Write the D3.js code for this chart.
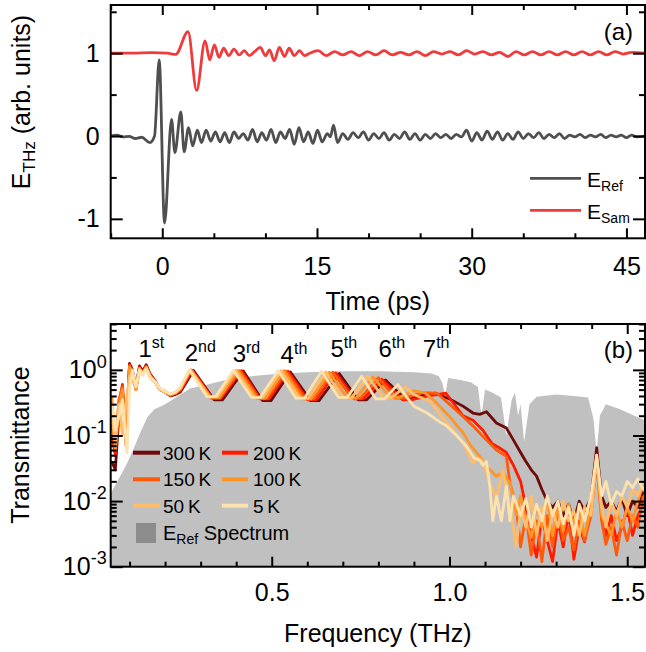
<!DOCTYPE html>
<html><head><meta charset="utf-8">
<script src="https://cdn.jsdelivr.net/npm/d3@7"></script>
<style>
html,body{margin:0;padding:0;background:#fff;}
svg{display:block;font-family:Arial,"Liberation Sans",sans-serif;}
</style></head>
<body><svg id="c" width="646" height="652"></svg>
<script>
// ---------------- DATA ----------------
// Panel (a): time-domain fields (vertices at extrema)
const refTime = [-5,-4.4,-3.8,-3.2,-2.6,-2.0,-1.2,-0.75,-0.3,0.22,0.9,1.22,1.8,2.12,2.55,2.95,3.4,3.8,4.25,4.7,5.15,5.6,6.05,6.5,6.95,7.4,7.85,8.3,8.75,9.2,9.65,10.1,10.55,11.0,11.45,11.9,12.35,12.8,13.25,13.7,14.15,14.6,15.05,15.5,16.0,16.3,16.6,17.0,17.5,18.0,18.5,19.0,19.5,20.0,20.5,21.0,21.5,22.0,22.5,23.0,23.5,24.0,24.5,25.0,25.5,26.0,26.5,27.0,27.5,28.0,28.5,29.0,29.5,30.0,30.5,31.0,31.5,32.0,32.5,33.0,33.5,34.0,34.5,35.0,35.5,36.0,36.5,37.0,37.5,38.0,38.5,39.0,39.5,40.0,40.5,41.0,41.5,42.0,42.5,43.0,43.5,44.0,44.5,45.0,45.5,46.0,46.8];
const refField = [0,0.012,-0.01,-0.005,-0.03,-0.015,-0.08,0.0,0.92,-1.05,0.2,-0.2,0.29,-0.19,0.1,-0.12,0.07,-0.08,0.07,-0.06,0.05,-0.07,0.04,-0.08,0.05,-0.03,0.03,-0.05,0.08,-0.07,0.04,-0.05,0.08,-0.08,0.05,-0.03,0.08,-0.1,0.1,-0.07,0.05,-0.09,0.07,-0.07,0.03,-0.01,0.13,-0.08,0.03,-0.04,0.04,-0.02,0.05,-0.05,0.03,-0.03,0.04,-0.05,0.02,-0.03,0.05,-0.04,0.03,-0.05,0.02,-0.03,0.03,-0.02,0.02,-0.03,0.02,-0.01,0.07,-0.06,0.04,-0.05,0.06,-0.04,0.05,-0.05,0.03,-0.04,0.05,-0.03,0.03,-0.02,0.04,-0.03,0.02,-0.02,0.03,-0.03,0.01,-0.01,0.02,-0.02,0.01,-0.01,0.02,-0.02,0.01,-0.01,0.01,-0.02,0.01,-0.01,0.0];
const samTime = [-5,-3,-1,0.5,1.3,2.5,3.33,4.15,4.6,5.05,5.5,5.95,6.45,6.95,7.45,7.95,8.45,8.95,9.5,10.0,10.4,10.85,11.35,11.85,12.3,12.8,13.3,13.8,14.3,15.1,15.9,16.7,17.5,18.3,19.1,19.9,20.7,21.5,22.3,23.1,23.9,24.7,25.5,26.3,27.1,27.9,28.7,29.5,30.3,31.1,31.9,32.7,33.5,34.3,35.1,35.9,36.7,37.5,38.3,39.1,39.9,40.7,41.5,42.3,43.1,43.9,44.7,45.5,46.8];
const samField = [1.0,1.0,1.006,1.0,0.985,1.26,0.55,1.15,0.92,1.1,0.95,1.06,0.97,1.05,0.98,1.03,0.97,1.02,1.07,0.97,1.04,0.91,1.07,0.96,1.06,0.97,1.03,0.97,1.0,1.03,0.97,1.02,0.98,1.02,0.97,1.02,0.98,1.03,0.98,1.01,0.98,1.02,0.97,1.02,0.99,1.02,0.98,1.03,0.99,1.02,0.98,1.01,0.96,1.02,0.98,1.02,0.98,1.02,0.98,1.02,0.98,1.02,0.98,1.02,0.98,1.02,0.99,1.01,1.0];
const timeTicks = [0,15,30,45];
const fieldTicks = [-1,0,1];

// Panel (b): transmittance [frequency THz, T]
const T300K = [[0.05,0.04],[0.06,0.03],[0.07,0.2],[0.08,0.45],[0.09,0.1],[0.1,1.25],[0.108,1.0],[0.118,0.55],[0.128,1.15],[0.137,0.95],[0.147,1.2],[0.158,0.86],[0.172,0.68],[0.186,0.5],[0.2,0.47],[0.215,0.4],[0.229,0.42],[0.243,0.46],[0.28,0.98],[0.338,0.35],[0.362,0.35],[0.42,0.96],[0.474,0.34],[0.498,0.34],[0.552,0.93],[0.609,0.34],[0.633,0.34],[0.69,0.88],[0.743,0.35],[0.767,0.35],[0.82,0.7],[0.873,0.37],[0.897,0.37],[0.93,0.42],[0.96,0.44],[1.0,0.36],[1.038,0.28],[1.066,0.22],[1.085,0.21],[1.104,0.23],[1.132,0.155],[1.16,0.13],[1.18,0.085],[1.2,0.055],[1.215,0.04],[1.23,0.03],[1.245,0.024],[1.26,0.015],[1.275,0.01],[1.29,0.008],[1.305,0.01],[1.32,0.006],[1.335,0.009],[1.35,0.005],[1.365,0.01],[1.38,0.007],[1.398,0.011],[1.414,0.065],[1.428,0.012],[1.44,0.008],[1.455,0.01],[1.47,0.007],[1.485,0.011],[1.5,0.006],[1.515,0.01],[1.53,0.008],[1.545,0.014]];
const T200K = [[0.05,0.1],[0.06,0.05],[0.07,0.3],[0.08,0.6],[0.09,0.09],[0.1,1.2],[0.108,0.9],[0.118,0.52],[0.128,1.1],[0.137,0.92],[0.147,1.15],[0.158,0.84],[0.172,0.67],[0.186,0.5],[0.2,0.46],[0.215,0.41],[0.229,0.43],[0.243,0.48],[0.276,0.99],[0.333,0.37],[0.357,0.37],[0.415,0.97],[0.468,0.36],[0.492,0.36],[0.546,0.95],[0.601,0.35],[0.625,0.35],[0.68,0.9],[0.733,0.36],[0.757,0.36],[0.81,0.72],[0.868,0.35],[0.892,0.35],[0.94,0.4],[0.99,0.44],[1.038,0.2],[1.066,0.17],[1.094,0.12],[1.12,0.075],[1.14,0.065],[1.16,0.055],[1.18,0.035],[1.2,0.02],[1.215,0.008],[1.23,0.003],[1.245,0.0014],[1.26,0.006],[1.275,0.0025],[1.29,0.0012],[1.305,0.005],[1.32,0.002],[1.335,0.007],[1.35,0.0013],[1.365,0.004],[1.38,0.0024],[1.398,0.008],[1.414,0.05],[1.428,0.007],[1.44,0.003],[1.455,0.006],[1.47,0.0025],[1.485,0.004],[1.5,0.008],[1.515,0.003],[1.53,0.006],[1.545,0.009]];
const T150K = [[0.05,0.15],[0.06,0.07],[0.07,0.35],[0.08,0.55],[0.09,0.07],[0.1,1.15],[0.108,0.85],[0.118,0.5],[0.128,1.05],[0.137,0.9],[0.147,1.12],[0.158,0.82],[0.172,0.66],[0.186,0.5],[0.2,0.46],[0.215,0.41],[0.229,0.44],[0.243,0.5],[0.274,0.99],[0.33,0.37],[0.354,0.37],[0.41,0.97],[0.463,0.37],[0.487,0.37],[0.54,0.96],[0.594,0.36],[0.618,0.36],[0.672,0.92],[0.726,0.37],[0.75,0.37],[0.8,0.76],[0.848,0.37],[0.872,0.37],[0.925,0.45],[0.965,0.44],[1.0,0.3],[1.038,0.195],[1.066,0.14],[1.094,0.097],[1.132,0.06],[1.16,0.048],[1.17,0.019],[1.188,0.008],[1.2,0.002],[1.215,0.006],[1.23,0.0015],[1.245,0.005],[1.26,0.0012],[1.275,0.006],[1.29,0.002],[1.305,0.007],[1.32,0.0025],[1.335,0.004],[1.35,0.0018],[1.365,0.005],[1.38,0.0025],[1.398,0.006],[1.414,0.04],[1.428,0.005],[1.44,0.0022],[1.455,0.004],[1.47,0.0015],[1.485,0.005],[1.5,0.0025],[1.515,0.006],[1.53,0.004],[1.545,0.012]];
const T100K = [[0.05,0.4],[0.06,0.06],[0.07,0.25],[0.08,0.5],[0.09,0.08],[0.1,1.1],[0.108,0.8],[0.118,0.5],[0.128,1.05],[0.137,0.88],[0.147,1.1],[0.158,0.8],[0.172,0.65],[0.186,0.5],[0.2,0.46],[0.215,0.42],[0.229,0.45],[0.243,0.52],[0.272,1.0],[0.328,0.38],[0.352,0.38],[0.404,0.98],[0.458,0.37],[0.482,0.37],[0.534,0.97],[0.586,0.36],[0.61,0.36],[0.662,0.92],[0.713,0.37],[0.737,0.37],[0.785,0.78],[0.833,0.38],[0.857,0.38],[0.9,0.48],[0.93,0.45],[0.96,0.33],[1.0,0.195],[1.038,0.11],[1.06,0.07],[1.085,0.048],[1.104,0.034],[1.132,0.024],[1.15,0.027],[1.17,0.019],[1.188,0.006],[1.2,0.012],[1.215,0.005],[1.23,0.0028],[1.245,0.009],[1.26,0.004],[1.275,0.011],[1.29,0.003],[1.305,0.008],[1.32,0.0035],[1.335,0.009],[1.35,0.0045],[1.365,0.007],[1.38,0.003],[1.398,0.008],[1.414,0.05],[1.428,0.006],[1.44,0.0045],[1.455,0.003],[1.47,0.007],[1.485,0.004],[1.5,0.008],[1.515,0.005],[1.53,0.01],[1.545,0.018]];
const T50K = [[0.05,0.2],[0.06,0.08],[0.07,0.3],[0.08,0.1],[0.09,0.3],[0.1,0.8],[0.108,0.7],[0.118,0.55],[0.128,1.0],[0.137,0.88],[0.147,1.05],[0.158,0.76],[0.172,0.64],[0.186,0.5],[0.2,0.46],[0.215,0.43],[0.229,0.45],[0.243,0.53],[0.27,1.0],[0.323,0.39],[0.347,0.39],[0.398,0.98],[0.45,0.38],[0.474,0.38],[0.526,0.97],[0.578,0.37],[0.602,0.37],[0.652,0.93],[0.7,0.37],[0.724,0.37],[0.77,0.8],[0.813,0.38],[0.837,0.38],[0.875,0.55],[0.9,0.42],[0.945,0.33],[0.992,0.156],[1.038,0.077],[1.066,0.038],[1.08,0.045],[1.094,0.04],[1.113,0.019],[1.132,0.011],[1.15,0.03],[1.17,0.008],[1.188,0.002],[1.2,0.008],[1.215,0.004],[1.23,0.012],[1.245,0.003],[1.26,0.008],[1.275,0.0025],[1.29,0.007],[1.305,0.004],[1.32,0.01],[1.335,0.005],[1.35,0.007],[1.365,0.003],[1.38,0.008],[1.398,0.006],[1.414,0.045],[1.428,0.008],[1.44,0.004],[1.455,0.01],[1.47,0.006],[1.485,0.012],[1.5,0.008],[1.515,0.015],[1.53,0.012],[1.545,0.02]];
const T5K = [[0.05,0.3],[0.06,0.12],[0.07,0.2],[0.08,0.35],[0.093,0.055],[0.1,0.5],[0.108,1.0],[0.118,0.55],[0.128,1.0],[0.137,0.82],[0.147,1.05],[0.158,0.78],[0.172,0.66],[0.186,0.52],[0.2,0.47],[0.215,0.43],[0.229,0.46],[0.243,0.55],[0.268,1.0],[0.318,0.39],[0.342,0.39],[0.392,0.98],[0.443,0.38],[0.467,0.38],[0.518,0.97],[0.568,0.37],[0.592,0.37],[0.64,0.95],[0.688,0.38],[0.712,0.38],[0.753,0.8],[0.793,0.36],[0.817,0.36],[0.855,0.6],[0.88,0.38],[0.9,0.28],[0.937,0.22],[0.973,0.16],[0.992,0.14],[1.02,0.1],[1.048,0.068],[1.07,0.045],[1.085,0.042],[1.094,0.035],[1.104,0.04],[1.113,0.018],[1.122,0.005],[1.132,0.012],[1.146,0.005],[1.16,0.017],[1.17,0.005],[1.18,0.012],[1.2,0.006],[1.215,0.011],[1.23,0.004],[1.245,0.009],[1.26,0.005],[1.275,0.012],[1.29,0.006],[1.305,0.01],[1.32,0.0045],[1.335,0.008],[1.35,0.003],[1.365,0.009],[1.38,0.005],[1.398,0.012],[1.414,0.05],[1.428,0.012],[1.44,0.02],[1.455,0.009],[1.47,0.014],[1.485,0.012],[1.5,0.02],[1.515,0.016],[1.53,0.022],[1.545,0.015]];
const refSpectrum = [[0.047,0.013],[0.07,0.022],[0.09,0.035],[0.11,0.06],[0.13,0.11],[0.15,0.19],[0.17,0.25],[0.2,0.3],[0.23,0.38],[0.27,0.52],[0.32,0.6],[0.37,0.7],[0.42,0.77],[0.47,0.83],[0.52,0.87],[0.6,0.92],[0.7,0.95],[0.8,0.95],[0.9,0.92],[0.95,0.88],[0.97,0.8],[0.98,0.63],[0.988,0.4],[0.996,0.75],[1.03,0.7],[1.06,0.65],[1.08,0.55],[1.09,0.2],[1.1,0.5],[1.12,0.45],[1.145,0.38],[1.16,0.1],[1.175,0.35],[1.184,0.45],[1.193,0.2],[1.2,0.3],[1.21,0.08],[1.225,0.3],[1.245,0.39],[1.3,0.42],[1.35,0.4],[1.39,0.38],[1.405,0.18],[1.414,0.055],[1.423,0.2],[1.44,0.3],[1.48,0.25],[1.52,0.2],[1.55,0.17]];
const tempLabels = ["300\u2009K","200\u2009K","150\u2009K","100\u2009K","50\u2009K","5\u2009K"];
const tempColors = ["#6e0a0a","#ff1a00","#ff5a0a","#ff9428","#ffbd6a","#fbe2ae"];
const freqTicks = [0.5,1.0,1.5];
const freqTickLabels = ["0.5","1.0","1.5"];
const decadeTicks = [1e-3,1e-2,1e-1,1];
const orderNames = ["1","2","3","4","5","6","7"];
const orderSup = ["st","nd","rd","th","th","th","th"];
const orderPos = [0.125,0.255,0.39,0.525,0.665,0.8,0.925];

// ---------------- DRAW ----------------
const svg = d3.select("#c");
const L = 110.7, R = 645;
const aTop = 5, aBot = 238.3, bTop = 324, bBot = 566.7;
const FS = 25;
const font = "Arial, 'Liberation Sans', sans-serif";

const xT = d3.scaleLinear().domain([-5,46.8]).range([L,R]);
const yT = d3.scaleLinear().domain([-1.235,1.582]).range([aBot,aTop]);
const xB = d3.scaleLinear().domain([0.047,1.55]).range([L,R]);
const yB = d3.scaleLog().domain([1e-3,5]).range([bBot,bTop]);

const defs = svg.append("defs");
defs.append("clipPath").attr("id","clipA").append("rect").attr("x",L).attr("y",aTop).attr("width",R-L).attr("height",aBot-aTop);
defs.append("clipPath").attr("id","clipB").append("rect").attr("x",L).attr("y",bTop).attr("width",R-L).attr("height",bBot-bTop);

// ---- Panel (a) traces
const gA = svg.append("g").attr("clip-path","url(#clipA)");
const lineT = d3.line().x(d=>xT(d[0])).y(d=>yT(d[1])).curve(d3.curveMonotoneX);
gA.append("path").datum(d3.zip(samTime,samField)).attr("d",lineT)
  .attr("fill","none").attr("stroke","#ef3b3b").attr("stroke-width",2.8).attr("stroke-linejoin","round");
gA.append("path").datum(d3.zip(refTime,refField)).attr("d",lineT)
  .attr("fill","none").attr("stroke","#4f4f4f").attr("stroke-width",2.8).attr("stroke-linejoin","round");

// ---- Panel (b)
const gB = svg.append("g").attr("clip-path","url(#clipB)");
const area = d3.area().x(d=>xB(d[0])).y0(bBot).y1(d=>yB(d[1]));
gB.append("path").datum(refSpectrum).attr("d",area).attr("fill","#c0c0c0");
const lineB = d3.line().x(d=>xB(d[0])).y(d=>yB(d[1]));
const series = [T300K,T200K,T150K,T100K,T50K,T5K];
series.forEach((s,i)=>{
  gB.append("path").datum(s).attr("d",lineB).attr("fill","none")
    .attr("stroke",tempColors[i]).attr("stroke-width",2.8).attr("stroke-linejoin","round");
});

// ---- axes helper
function styleAxis(g){
  g.select(".domain").remove();
  g.selectAll(".tick line").attr("stroke","#000").attr("stroke-width",2);
  g.selectAll("text").attr("font-size",FS).attr("fill","#000").attr("font-family",font);
}
function frame(top,bot){
  svg.append("rect").attr("x",L).attr("y",top).attr("width",R-L).attr("height",bot-top)
    .attr("fill","none").attr("stroke","#000").attr("stroke-width",2);
}

// Panel (a) axes
const timeMinor = [-5,5,10,20,25,35,40];
svg.append("g").attr("transform",`translate(0,${aBot})`).call(d3.axisBottom(xT).tickValues(timeTicks).tickSize(-10).tickPadding(19).tickFormat(d=>String(d))).call(styleAxis);
svg.append("g").attr("transform",`translate(0,${aBot})`).call(d3.axisBottom(xT).tickValues(timeMinor).tickSize(-5).tickFormat("")).call(styleAxis);
svg.append("g").attr("transform",`translate(0,${aTop})`).call(d3.axisTop(xT).tickValues(timeTicks).tickSize(-10).tickFormat("")).call(styleAxis);
svg.append("g").attr("transform",`translate(0,${aTop})`).call(d3.axisTop(xT).tickValues(timeMinor).tickSize(-5).tickFormat("")).call(styleAxis);
const fieldMinor = [-0.5,0.5,1.5];
svg.append("g").attr("transform",`translate(${L},0)`).call(d3.axisLeft(yT).tickValues(fieldTicks).tickSize(-12).tickPadding(11).tickFormat(d=>String(d))).call(styleAxis);
svg.append("g").attr("transform",`translate(${L},0)`).call(d3.axisLeft(yT).tickValues(fieldMinor).tickSize(-6).tickFormat("")).call(styleAxis);
svg.append("g").attr("transform",`translate(${R},0)`).call(d3.axisRight(yT).tickValues(fieldTicks).tickSize(-12).tickFormat("")).call(styleAxis);
svg.append("g").attr("transform",`translate(${R},0)`).call(d3.axisRight(yT).tickValues(fieldMinor).tickSize(-6).tickFormat("")).call(styleAxis);
frame(aTop,aBot);

// Panel (b) axes
const freqMinor = d3.range(1,16).map(k=>k/10).filter(v=>![0.5,1.0,1.5].some(m=>Math.abs(m-v)<1e-9));
svg.append("g").attr("transform",`translate(0,${bBot})`).call(d3.axisBottom(xB).tickValues(freqTicks).tickSize(-10).tickPadding(17).tickFormat((d,i)=>freqTickLabels[i])).call(styleAxis);
svg.append("g").attr("transform",`translate(0,${bBot})`).call(d3.axisBottom(xB).tickValues(freqMinor).tickSize(-5).tickFormat("")).call(styleAxis);
svg.append("g").attr("transform",`translate(0,${bTop})`).call(d3.axisTop(xB).tickValues(freqTicks).tickSize(-10).tickFormat("")).call(styleAxis);
svg.append("g").attr("transform",`translate(0,${bTop})`).call(d3.axisTop(xB).tickValues(freqMinor).tickSize(-5).tickFormat("")).call(styleAxis);
const logMinor = [];
[1e-3,1e-2,1e-1,1].forEach(dec=>{ for(let k=2;k<=9;k++){ const v=dec*k; if(v<=5) logMinor.push(v);} });
const gL = svg.append("g").attr("transform",`translate(${L},0)`).call(d3.axisLeft(yB).tickValues(decadeTicks).tickSize(-12).tickPadding(4).tickFormat(()=>"")).call(styleAxis);
gL.selectAll(".tick text").each(function(d){
  const t = d3.select(this);
  t.text("10");
  t.append("tspan").attr("dy","-0.6em").attr("font-size",18).text(String(Math.round(Math.log10(d))));
});
svg.append("g").attr("transform",`translate(${L},0)`).call(d3.axisLeft(yB).tickValues(logMinor).tickSize(-6).tickFormat("")).call(styleAxis);
svg.append("g").attr("transform",`translate(${R},0)`).call(d3.axisRight(yB).tickValues(decadeTicks).tickSize(-12).tickFormat("")).call(styleAxis);
svg.append("g").attr("transform",`translate(${R},0)`).call(d3.axisRight(yB).tickValues(logMinor).tickSize(-6).tickFormat("")).call(styleAxis);
frame(bTop,bBot);

// ---- axis titles
svg.append("text").attr("x",(L+R)/2).attr("y",310).attr("text-anchor","middle").attr("font-size",FS).attr("font-family",font).text("Time (ps)");
svg.append("text").attr("x",(L+R)/2).attr("y",642).attr("text-anchor","middle").attr("font-size",FS).attr("font-family",font).text("Frequency (THz)");
const yl = svg.append("text").attr("transform","translate(30,102) rotate(-90)").attr("text-anchor","middle").attr("font-size",FS).attr("font-family",font);
yl.append("tspan").text("E");
yl.append("tspan").attr("dy","0.3em").attr("font-size",17).text("THz");
yl.append("tspan").attr("dy","-0.2em").text(" (arb. units)");
svg.append("text").attr("transform","translate(29,445) rotate(-90)").attr("text-anchor","middle").attr("font-size",FS).attr("font-family",font).text("Transmittance");

// panel letters
svg.append("text").attr("x",633).attr("y",40).attr("text-anchor","end").attr("font-size",24).attr("font-family",font).text("(a)");
svg.append("text").attr("x",633).attr("y",358).attr("text-anchor","end").attr("font-size",24).attr("font-family",font).text("(b)");

// ---- legend (a)
const legA = [["Ref","#4f4f4f",178.3],["Sam","#ef3b3b",210.3]];
legA.forEach(([sub,col,y])=>{
  svg.append("line").attr("x1",530).attr("x2",581).attr("y1",y).attr("y2",y).attr("stroke",col).attr("stroke-width",2.8);
  const t = svg.append("text").attr("x",587).attr("y",y+8.5).attr("font-size",21).attr("font-family",font);
  t.append("tspan").text("E");
  t.append("tspan").attr("dy","0.28em").attr("font-size",14).text(sub);
});

// ---- legend (b)
const legRows = [452.7,479.3,505.7];
const legCols = [[133,160,163],[222,248,253]];
tempLabels.forEach((lab,i)=>{
  const r = Math.floor(i/2), c = i%2;
  const y = legRows[r];
  svg.append("line").attr("x1",legCols[c][0]).attr("x2",legCols[c][1]).attr("y1",y).attr("y2",y)
    .attr("stroke",tempColors[i]).attr("stroke-width",4);
  svg.append("text").attr("x",legCols[c][2]).attr("y",y+7).attr("font-size",19).attr("font-family",font).text(lab);
});
svg.append("rect").attr("x",136).attr("y",523).attr("width",20).attr("height",20).attr("fill","#8c8c8c");
const ls = svg.append("text").attr("x",163).attr("y",540).attr("font-size",20).attr("font-family",font);
ls.append("tspan").text("E");
ls.append("tspan").attr("dy","0.28em").attr("font-size",14).text("Ref");
ls.append("tspan").attr("dy","-0.2em").text(" Spectrum");

// ---- order labels
const orderY = [357,361,362,363,357,357,357];
orderNames.forEach((n,i)=>{
  const t = svg.append("text").attr("x",xB(orderPos[i])).attr("y",orderY[i]).attr("font-size",24).attr("font-family",font);
  t.append("tspan").text(n);
  t.append("tspan").attr("dy","-0.55em").attr("font-size",16).text(orderSup[i]);
});
</script>
</body></html>
